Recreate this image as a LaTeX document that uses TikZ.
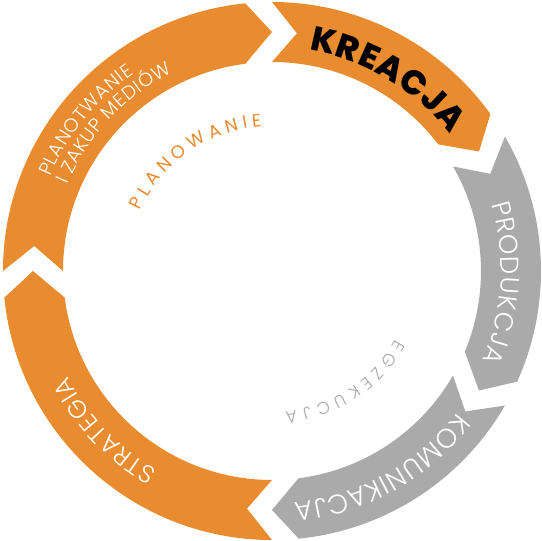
\documentclass[tikz,border=0pt]{standalone}
\usepackage{fontspec}
\setmainfont{Poppins}[UprightFont=* Light, BoldFont=* ExtraBold]
\newfontfamily\regfont{Poppins}
\usepackage{xcolor}
\usepackage{tikz}
\usetikzlibrary{decorations.text}

\definecolor{orng}{HTML}{E98B2F}
\definecolor{gry}{HTML}{AAAAAA}
\definecolor{lgry}{HTML}{A8A8A8}

\tikzset{
  ringtext/.style={decorate, decoration={text along path, text align={fit to path}, text={#1}}}
}

\begin{document}
\begin{tikzpicture}
\useasboundingbox (-272pt,-270pt) rectangle (270pt,271pt);

% ring of arrows
\foreach \s/\e/\c in {180/90/orng, 90/30/orng, 30/-30/gry, -30/-90/gry, -90/-180/orng}
  \fill[\c] (\s:269pt) arc[start angle=\s, end angle={\e+5.7}, radius=269pt]
    -- (\e:239pt) -- ({\e+7.3}:209pt)
    arc[start angle={\e+7.3}, end angle=\s, radius=209pt]
    -- ({\s-6}:239pt) -- cycle;

% labels on the ring
\path[ringtext={|\fontsize{19}{22}\selectfont\color{white}|PLANOTWANIE}]
  (157:241pt) arc[start angle=157, end angle=125, radius=241pt];
\path[ringtext={|\fontsize{19}{22}\selectfont\color{white}|I ZAKUP MEDIÓW}]
  (157:222pt) arc[start angle=157, end angle=116.7, radius=222pt];
\path[ringtext={|\fontsize{34}{38}\selectfont\bfseries\color{black}|KREACJA}]
  (80.5:224pt) arc[start angle=80.5, end angle=37.5, radius=224pt];
\path[ringtext={|\fontsize{26}{30}\selectfont\color{white}|PRODUKCJA}]
  (17:229pt) arc[start angle=17, end angle=-23, radius=229pt];
\path[ringtext={|\fontsize{27}{31}\selectfont\color{white}|KOMUNIKACJA}]
  (-37.4:233pt) arc[start angle=-37.4, end angle=-84.6, radius=233pt];
\path[ringtext={|\fontsize{25}{29}\selectfont\color{white}|STRATEGIA}]
  (-119.8:230pt) arc[start angle=-119.8, end angle=-152.8, radius=230pt];

% inner labels
\path[ringtext={|\fontsize{18}{20}\selectfont\regfont\color{orng}|PLANOWANIE}]
  (155.5:145pt) arc[start angle=155.5, end angle=94, radius=145pt];
\path[ringtext={|\fontsize{17}{19}\selectfont\color{lgry}|EGZEKUCJA}]
  (-29:141pt) arc[start angle=-29, end angle=-84.6, radius=141pt];

\end{tikzpicture}
\end{document}
